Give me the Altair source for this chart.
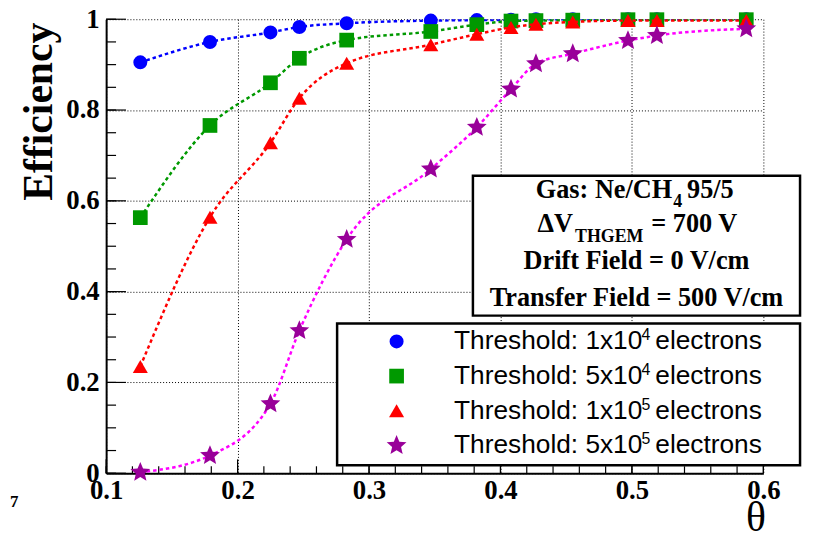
import math
import altair as alt
import pandas as pd

# ---------------- data ----------------
theta = [0.126, 0.179, 0.225, 0.247, 0.283, 0.347, 0.382, 0.408, 0.427, 0.455, 0.497, 0.519, 0.587]
eff_1e4 = [0.905, 0.950, 0.971, 0.983, 0.991, 0.997, 0.998, 0.999, 1.000, 1.000, 1.000, 1.000, 1.000]
eff_5e4 = [0.563, 0.766, 0.860, 0.914, 0.954, 0.973, 0.988, 0.996, 0.997, 0.998, 0.999, 0.999, 0.999]
eff_1e5 = [0.235, 0.564, 0.728, 0.826, 0.903, 0.944, 0.967, 0.982, 0.989, 0.994, 0.997, 0.997, 0.997]
eff_5e5 = [0.002, 0.039, 0.153, 0.314, 0.515, 0.670, 0.762, 0.846, 0.902, 0.924, 0.953, 0.964, 0.979]

series_names = ["1x10^4", "5x10^4", "1x10^5", "5x10^5"]
series_values = [eff_1e4, eff_5e4, eff_1e5, eff_5e5]
legend_mantissa = ["Threshold: 1x10", "Threshold: 5x10", "Threshold: 1x10", "Threshold: 5x10"]
legend_exponent = ["4", "4", "5", "5"]

x_ticks = [0.1, 0.2, 0.3, 0.4, 0.5, 0.6]
y_ticks = [0, 0.2, 0.4, 0.6, 0.8, 1]
x_minor = [round(0.1 + 0.02 * i, 2) for i in range(26)]
y_minor = [round(0.05 * i, 2) for i in range(21)]

# ---------------- styling ----------------
W, H = 663, 458
SERIF = "Liberation Serif"
SANS = "Liberation Sans"


def star_path(inner=0.45):
    pts = []
    for i in range(10):
        a = math.radians(-90 + 36 * i)
        r = 1.0 if i % 2 == 0 else inner
        pts.append(f"{r * math.cos(a):.3f},{r * math.sin(a):.3f}")
    return "M" + "L".join(pts) + "Z"


marker_colors = ["#0000ff", "#009900", "#ff0000", "#990099"]
line_colors = ["#0000ff", "#009900", "#ff0000", "#ff00ff"]
marker_shapes = ["circle", "square", "triangle-up", star_path()]
marker_sizes = [200, 220, 230, 440]

xs = alt.Scale(domain=[0.1, 0.6], nice=False, zero=False)
ys = alt.Scale(domain=[0, 1], nice=False, zero=False)

rows = []
for name, vals in zip(series_names, series_values):
    for t, v in zip(theta, vals):
        rows.append({"theta": t, "eff": v, "series": name})
df = pd.DataFrame(rows)

x_axis = alt.Axis(
    values=x_ticks, format="~g", grid=True, gridColor="black", gridDash=[1, 2], gridWidth=1,
    gridOpacity=1, domain=True, domainColor="black", domainWidth=2, ticks=False, tickSize=0,
    labelFont=SERIF, labelFontWeight="bold", labelFontSize=27, labelColor="black",
    labelPadding=25, labelBaseline="alphabetic", labelFlush=False, labelOverlap=False,
    title="θ", titleFont=SERIF, titleFontSize=42, titleFontWeight="normal", titleColor="black",
    titleX=655, titleY=58, titleAlign="center", titleBaseline="alphabetic",
)
y_axis = alt.Axis(
    values=y_ticks, format="~g", grid=True, gridColor="black", gridDash=[1, 2], gridWidth=1,
    gridOpacity=1, domain=True, domainColor="black", domainWidth=2, ticks=False, tickSize=0,
    labelFont=SERIF, labelFontWeight="bold", labelFontSize=27, labelColor="black",
    labelPadding=7, labelFlush=False, labelOverlap=False, labelBaseline="middle",
    title="Efficiency", titleFont=SERIF, titleFontSize=42, titleFontWeight="bold",
    titleColor="black", titleAngle=270, titleX=-55, titleY=3, titleAlign="right",
    titleBaseline="alphabetic",
)


def X(field):
    return alt.X(field, scale=xs, axis=x_axis)


def Y(field):
    return alt.Y(field, scale=ys, axis=y_axis)


layers = []
# axis carrier
layers.append(alt.Chart(df).mark_point(opacity=0).encode(x=X("theta:Q"), y=Y("eff:Q")))

# inward ticks
ytick_df = pd.DataFrame({"v": y_minor})
ymaj_df = pd.DataFrame({"v": y_ticks})
xtick_df = pd.DataFrame({"v": x_minor})
xmaj_df = pd.DataFrame({"v": x_ticks})
layers.append(alt.Chart(ytick_df).mark_rule(color="black", strokeWidth=1.2).encode(
    y=Y("v:Q"), x=alt.value(0), x2=alt.value(10)))
layers.append(alt.Chart(ymaj_df).mark_rule(color="black", strokeWidth=1.2).encode(
    y=Y("v:Q"), x=alt.value(0), x2=alt.value(20)))
layers.append(alt.Chart(xtick_df).mark_rule(color="black", strokeWidth=1.2).encode(
    x=X("v:Q"), y=alt.value(H), y2=alt.value(H - 7)))
layers.append(alt.Chart(xmaj_df).mark_rule(color="black", strokeWidth=1.2).encode(
    x=X("v:Q"), y=alt.value(H), y2=alt.value(H - 14)))

# series: line then markers, in drawing order
for i, name in enumerate(series_names):
    sub = df[df["series"] == name]
    layers.append(
        alt.Chart(sub).mark_line(
            color=line_colors[i], strokeDash=[3.5, 3], strokeWidth=2.5,
            interpolate="monotone", clip=True,
        ).encode(x=X("theta:Q"), y=Y("eff:Q"))
    )
    layers.append(
        alt.Chart(sub).mark_point(
            filled=True, shape=marker_shapes[i], size=marker_sizes[i],
            color=marker_colors[i], opacity=1, strokeWidth=0,
        ).encode(x=X("theta:Q"), y=Y("eff:Q"))
    )


def one():
    return alt.Data(values=[{}])


def txt(s, x, y, size, font=SERIF, weight="bold", align="left", baseline="alphabetic"):
    return alt.Chart(one()).mark_text(
        text=s, font=font, fontSize=size, fontWeight=weight, align=align,
        baseline=baseline, color="black",
    ).encode(x=alt.value(x), y=alt.value(y))


def box(x1, x2, y1, y2):
    return alt.Chart(one()).mark_rect(fill="white", stroke="black", strokeWidth=2.5).encode(
        x=alt.value(x1), x2=alt.value(x2), y=alt.value(y1), y2=alt.value(y2))


# info box
layers.append(box(370, 700, 158, 299))
layers.append(txt("Gas: Ne/CH", 571, 180, 26.5, align="right"))
layers.append(txt("4", 572, 189, 18))
layers.append(txt("95/5", 586, 180, 26.5))
layers.append(txt("ΔV", 471, 215, 26.5, align="right"))
layers.append(txt("THGEM", 473, 225, 18))
layers.append(txt("= 700 V", 550, 215, 26.5))
layers.append(txt("Drift Field = 0 V/cm", 535, 252, 26.5, align="center"))
layers.append(txt("Transfer Field = 500 V/cm", 535, 289, 26.5, align="center"))

# legend box
layers.append(box(233, 700, 307, 450))
row_centers = [325, 360, 395, 430]
for i in range(4):
    cy = row_centers[i]
    layers.append(
        alt.Chart(one()).mark_point(
            filled=True, shape=marker_shapes[i], size=marker_sizes[i],
            color=marker_colors[i], opacity=1, strokeWidth=0,
        ).encode(x=alt.value(293), y=alt.value(cy))
    )
    layers.append(txt(legend_mantissa[i], 351, cy + 8, 26.5, font=SANS, weight="normal"))
    layers.append(txt(legend_exponent[i], 540, cy - 1, 16, font=SANS, weight="normal"))
    layers.append(txt("electrons", 554, cy + 8, 26.5, font=SANS, weight="normal"))

# cropped fragment at the lower left of the original image
layers.append(txt("7", -97, 492, 17))

chart = alt.layer(*layers).properties(
    width=W, height=H,
    padding={"left": 99, "top": 9, "right": 42, "bottom": 62},
    autosize=alt.AutoSizeParams(type="none"),
    background="white",
).configure_view(stroke=None)

chart.save("out.html", embed_options={"renderer": "svg", "actions": False})
